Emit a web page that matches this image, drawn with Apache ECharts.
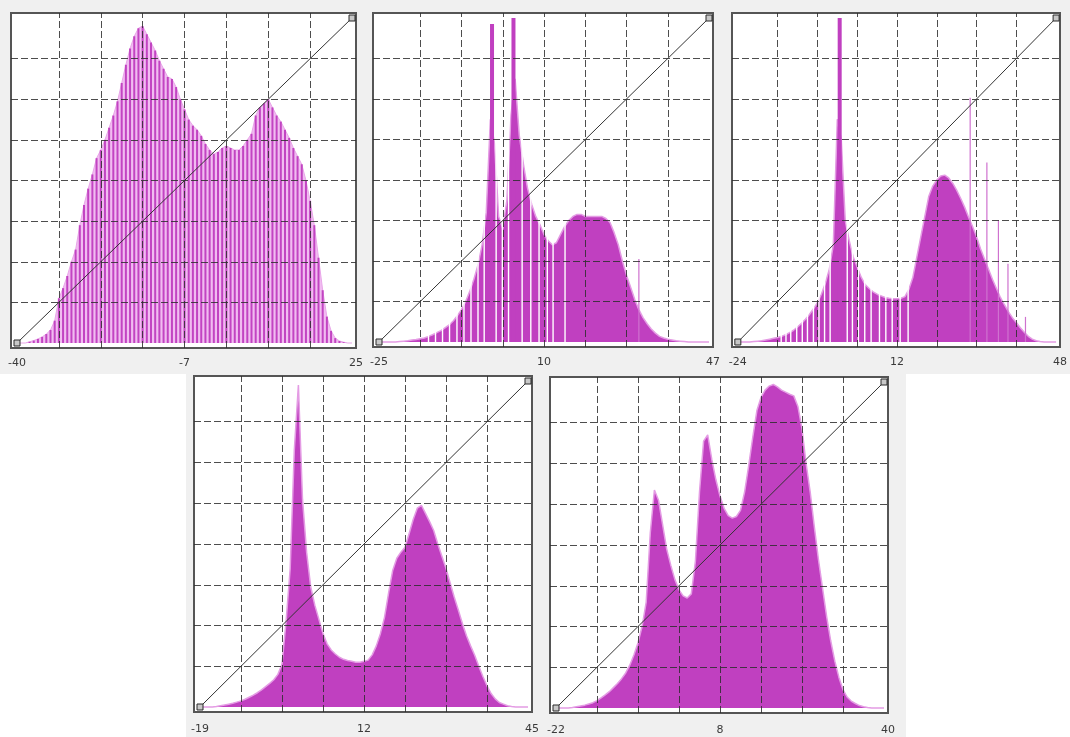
<!DOCTYPE html>
<html><head><meta charset="utf-8">
<script src="https://cdn.jsdelivr.net/npm/echarts@6/dist/echarts.min.js"></script>
<style>html,body{margin:0;padding:0;background:#fff}#c{width:1070px;height:737px}</style>
</head><body><div id="c"></div>
<script>
// ---- DATA (heights in grid units, 8 grid cells tall; one sample every 0.1 grid cell in x) ----
const p1Hist = [0,0,0,0.03,0.06,0.1,0.15,0.22,0.32,0.55,
  1.1,1.35,1.65,2.0,2.3,2.9,3.4,3.8,4.15,4.55,
  4.75,5.0,5.3,5.6,5.95,6.4,6.85,7.25,7.55,7.75,
  7.8,7.6,7.4,7.2,6.95,6.75,6.55,6.5,6.3,6.0,
  5.75,5.5,5.35,5.25,5.1,4.9,4.75,4.65,4.7,4.8,
  4.85,4.8,4.75,4.75,4.85,5.0,5.15,5.6,5.8,5.9,
  6.0,5.8,5.6,5.45,5.25,5.05,4.8,4.6,4.4,4.0,
  3.5,2.9,2.1,1.3,0.65,0.3,0.12,0.05,0.02,0,0];
const p2Hist = [0,0,0,0,0,0.01,0.02,0.03,0.05,0.06,
  0.08,0.1,0.14,0.18,0.23,0.28,0.35,0.42,0.52,0.65,
  0.8,1.0,1.25,1.55,1.9,2.4,3.2,5.5,4.9,3.1,
  2.8,3.5,5.6,6.5,5.1,4.4,3.8,3.4,3.1,2.9,
  2.65,2.5,2.4,2.45,2.65,2.85,3.0,3.1,3.15,3.15,
  3.1,3.1,3.1,3.1,3.1,3.05,2.95,2.7,2.4,2.0,
  1.65,1.35,1.05,0.8,0.6,0.45,0.32,0.22,0.14,0.1,
  0.07,0.05,0.03,0.02,0.01,0,0,0,0,0,0];
const p3Hist = [0,0,0,0,0.01,0.02,0.03,0.05,0.07,0.09,
  0.11,0.14,0.18,0.23,0.29,0.37,0.46,0.56,0.68,0.82,
  0.97,1.18,1.45,1.8,2.4,5.5,5.0,3.0,2.5,2.1,
  1.85,1.6,1.42,1.32,1.24,1.18,1.14,1.1,1.08,1.07,
  1.07,1.08,1.12,1.3,1.6,2.1,2.6,3.1,3.6,3.85,
  4.0,4.1,4.12,4.05,3.92,3.75,3.55,3.33,3.08,2.85,
  2.6,2.3,2.05,1.8,1.55,1.32,1.1,0.92,0.75,0.6,
  0.48,0.35,0.24,0.14,0.07,0.03,0.01,0,0,0,0];
const p4Hist = [0,0,0,0,0.01,0.03,0.05,0.07,0.09,0.12,
  0.15,0.19,0.24,0.29,0.35,0.42,0.5,0.58,0.67,0.8,
  1.05,2.1,3.4,6.3,7.9,5.1,3.8,2.95,2.5,2.15,
  1.8,1.55,1.4,1.3,1.22,1.17,1.14,1.12,1.1,1.1,
  1.12,1.15,1.28,1.5,1.8,2.2,2.8,3.35,3.65,3.8,
  3.92,4.25,4.6,4.88,4.95,4.75,4.55,4.33,4.0,3.7,
  3.4,3.05,2.7,2.38,2.05,1.75,1.5,1.27,1.0,0.75,
  0.52,0.33,0.2,0.11,0.07,0.03,0.01,0,0,0,0];
const p5Hist = [0,0,0,0,0.01,0.03,0.05,0.07,0.1,0.13,
  0.18,0.25,0.32,0.4,0.5,0.6,0.72,0.86,1.05,1.3,
  1.6,2.0,2.6,4.3,5.35,5.1,4.5,3.9,3.5,3.15,
  2.9,2.75,2.7,2.8,3.6,5.3,6.55,6.7,6.1,5.6,
  5.2,4.9,4.72,4.66,4.7,4.85,5.3,5.95,6.65,7.3,
  7.62,7.8,7.9,7.94,7.88,7.8,7.75,7.7,7.66,7.4,
  6.85,6.0,5.3,4.45,3.65,2.95,2.25,1.65,1.15,0.75,
  0.45,0.27,0.17,0.11,0.06,0.03,0.01,0,0,0,0];

// narrow spike bins [x, height]
const p2Spikes = [[2.74, 7.85], [3.26, 8.0]];
const p3Spikes = [[2.56, 8.0]];
// isolated thin bins [x, height]
const p2Thin = [[6.3, 2.05]];
const p3Thin = [[5.84, 6.03], [6.26, 4.43], [6.55, 3.0], [6.79, 1.93], [7.23, 0.62]];
// empty bins (x positions)
const p2Gaps = [1.20,1.37,1.54,1.71,1.89,2.06,2.23,2.40,2.55,2.84,2.99,3.14,3.47,3.68,3.88,4.08,4.22,4.51];
const p3Gaps = [1.09,1.21,1.33,1.48,1.62,1.75,1.90,2.04,2.18,2.32,2.75,2.88,3.03,3.19,3.35,3.56,3.72,3.88,4.08,4.28];

// tick labels (min, mid, max)
const p1Labels = ['-40', '-7', '25'];
const p2Labels = ['-25', '10', '47'];
const p3Labels = ['-24', '12', '48'];
const p4Labels = ['-19', '12', '45'];
const p5Labels = ['-22', '8', '40'];

const gridTicks = [1, 2, 3, 4, 5, 6, 7];
const diagEnds = [0, 8];

// ---- LAYOUT ----
const DIV = 8, STEP = 0.1;
const INS = {l: 6, r: 4, t: 5, b: 5};
const MAG = '#c040c0';
const panels = [
  {frame: [11, 13, 345, 335], hist: p1Hist, labels: p1Labels, comb: true, margin: 10},
  {frame: [373, 13, 340, 334], hist: p2Hist, labels: p2Labels, spikes: p2Spikes, thin: p2Thin, gaps: p2Gaps, margin: 10},
  {frame: [732, 13, 337, 334], hist: p3Hist, labels: p3Labels, spikes: p3Spikes, thin: p3Thin, gaps: p3Gaps, margin: 10},
  {frame: [194, 376, 338, 336], hist: p4Hist, labels: p4Labels, margin: 12},
  {frame: [550, 377, 338, 336], hist: p5Hist, labels: p5Labels, margin: 12}
];

const option = {
  animation: false,
  backgroundColor: '#ffffff',
  graphic: [
    {type: 'rect', z: 0, silent: true, shape: {x: 0, y: 0, width: 1070, height: 374}, style: {fill: '#f0f0f0'}},
    {type: 'rect', z: 0, silent: true, shape: {x: 186, y: 374, width: 720, height: 363}, style: {fill: '#f0f0f0'}}
  ],
  grid: [], xAxis: [], yAxis: [], series: []
};

panels.forEach(p => {
  const [fx, fy, fw, fh] = p.frame;
  const cw = (fw - INS.l - INS.r) / DIV, ch = (fh - INS.t - INS.b) / DIV;
  const xmin = -INS.l / cw, xmax = DIV + INS.r / cw;
  const ymin = -INS.b / ch, ymax = DIV + INS.t / ch;
  option.grid.push({left: fx, top: fy, width: fw, height: fh, show: true, z: 1,
    backgroundColor: '#ffffff', borderColor: '#555555', borderWidth: 2});
  const gi = option.grid.length - 1;
  option.yAxis.push({type: 'value', gridIndex: gi, min: ymin, max: ymax, show: false});
  const yi = option.yAxis.length - 1;
  const labels = p.labels;
  option.xAxis.push({type: 'value', gridIndex: gi, min: xmin, max: xmax, z: 1,
    axisLine: {show: false}, axisTick: {show: false}, splitLine: {show: false},
    axisLabel: {customValues: [0, DIV / 2, xmax], margin: p.margin, color: '#3a3a3a',
      fontSize: 11, fontFamily: 'DejaVu Sans',
      formatter: v => v < 2 ? labels[0] : (v < 6 ? labels[1] : labels[2])}});
  const xi = option.xAxis.length - 1;
  const extraX = () => {
    option.xAxis.push({type: 'value', gridIndex: gi, min: xmin, max: xmax, show: false});
    return option.xAxis.length - 1;
  };
  const pts = p.hist.map((v, k) => [k * STEP, v]);
  // histogram envelope
  option.series.push({type: 'line', xAxisIndex: xi, yAxisIndex: yi, data: pts, z: 2, silent: true,
    symbol: 'none', showSymbol: false,
    lineStyle: {color: p.comb ? '#e9a6e9' : '#e49ce4', width: p.comb ? 1 : 1.5},
    areaStyle: {color: p.comb ? '#f1bcf1' : MAG, opacity: 1}});
  if (p.comb) {
    option.series.push({type: 'bar', xAxisIndex: extraX(), yAxisIndex: yi, data: pts, z: 3, silent: true,
      barWidth: 2, itemStyle: {color: '#c244c2'}});
  }
  if (p.spikes) {
    option.series.push({type: 'bar', xAxisIndex: extraX(), yAxisIndex: yi, data: p.spikes, z: 3, silent: true,
      barWidth: 4, itemStyle: {color: MAG}});
  }
  if (p.thin) {
    option.series.push({type: 'bar', xAxisIndex: extraX(), yAxisIndex: yi, data: p.thin, z: 3, silent: true,
      barWidth: 1.2, itemStyle: {color: '#cf72cf'}});
  }
  if (p.gaps) {
    option.series.push({type: 'bar', xAxisIndex: extraX(), yAxisIndex: yi, data: p.gaps.map(x => [x, DIV]), z: 4, silent: true,
      barWidth: 1.4, itemStyle: {color: '#ffffff'}});
  }
  // dashed grid overlay
  option.series.push({type: 'line', xAxisIndex: xi, yAxisIndex: yi, data: [], z: 5, silent: true,
    markLine: {silent: true, symbol: ['none', 'none'], label: {show: false}, animation: false,
      lineStyle: {color: '#2e2e2e', width: 1, type: [7, 3], opacity: 0.85},
      data: gridTicks.map(t => ({xAxis: t})).concat(gridTicks.map(t => ({yAxis: t})))}});
  // diagonal stretch line with end handles
  option.series.push({type: 'line', xAxisIndex: xi, yAxisIndex: yi, z: 6, silent: true,
    data: diagEnds.map(d => [d, d]), symbol: 'rect', symbolSize: 6, showSymbol: true,
    lineStyle: {color: '#333333', width: 1},
    itemStyle: {color: '#c8c8c8', borderColor: '#2a2a2a', borderWidth: 1}});
});

const chart = echarts.init(document.getElementById('c'), null, {renderer: 'canvas'});
chart.setOption(option);
</script>
</body></html>
